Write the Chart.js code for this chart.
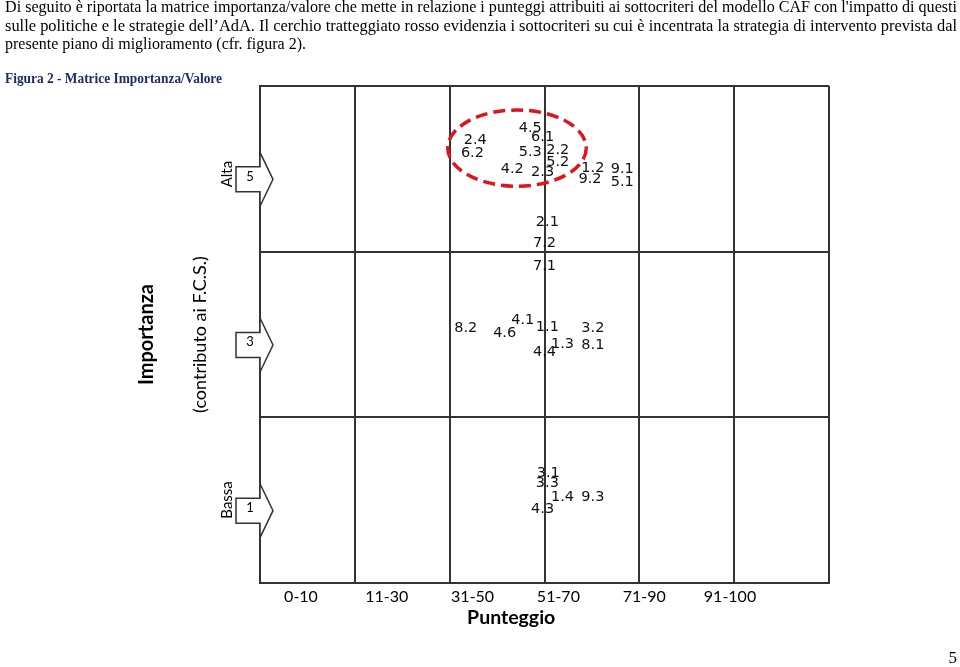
<!DOCTYPE html>
<html>
<head>
<meta charset="utf-8">
<script src="https://cdn.jsdelivr.net/npm/chart.js@4.4.0/dist/chart.umd.min.js"></script>
<style>
  body { margin: 0; background: #fff; }
  #pagina { position: relative; width: 960px; height: 667px; overflow: hidden; background: #fff; }
  #grafico { position: absolute; left: 0; top: 0; }
  .riga { position: absolute; left: 5px; white-space: nowrap; font-family: "Liberation Serif", "Times New Roman", serif;
          font-size: 16.5px; line-height: 16px; color: #000; transform-origin: 0 0; }
  #titoloFig { font-weight: bold; font-size: 14px; color: #1f2a6b; }
  #numPag { position: absolute; right: 3px; top: 648px; font-family: "Liberation Serif", serif; font-size: 17px; }
</style>
</head>
<body>
<div id="pagina">
  <canvas id="grafico" width="960" height="667"></canvas>
  <div class="riga" data-w="952" style="top:-1px">Di seguito è riportata la matrice importanza/valore che mette in relazione i punteggi attribuiti ai sottocriteri del modello CAF con l'impatto di questi</div>
  <div class="riga" data-w="952" style="top:17.5px">sulle politiche e le strategie dell’AdA. Il cerchio tratteggiato rosso evidenzia i sottocriteri su cui è incentrata la strategia di intervento prevista dal</div>
  <div class="riga" data-w="301" style="top:36px">presente piano di miglioramento (cfr. figura 2).</div>
  <div class="riga" id="titoloFig" data-w="217" style="top:71px">Figura 2 - Matrice Importanza/Valore</div>
  <div id="numPag">5</div>
</div>
<script>
// sottocriteri CAF: codice, posizione sul punteggio (colonne) e importanza
const codici = ["2.4", "6.2", "4.5", "6.1", "5.3", "2.2", "5.2", "4.2", "2.3", "1.2", "9.2", "9.1", "5.1",
                "2.1", "7.2", "7.1", "8.2", "4.6", "4.1", "1.1", "1.3", "4.4", "3.2", "8.1",
                "3.1", "3.3", "1.4", "9.3", "4.3"];
const punteggio = [2.27, 2.24, 2.85, 2.98, 2.85, 3.14, 3.14, 2.66, 2.98, 3.51, 3.48, 3.82, 3.82,
                   3.03, 3.00, 3.00, 2.17, 2.58, 2.77, 3.03, 3.19, 3.00, 3.51, 3.51,
                   3.04, 3.03, 3.19, 3.51, 2.98];
const importanza = [5.35, 5.19, 5.49, 5.38, 5.20, 5.23, 5.08, 4.99, 4.96, 5.01, 4.88, 5.00, 4.84,
                    4.36, 4.10, 3.82, 3.07, 3.02, 3.17, 3.09, 2.88, 2.78, 3.07, 2.87,
                    1.33, 1.20, 1.04, 1.03, 0.89];
const fasce = ["0-10", "11-30", "31-50", "51-70", "71-90", "91-100"];
const livelli = [5, 3, 1];
const livelliTesto = ["Alta", "", "Bassa"];
const cerchio = { x: 2.71, y: 5.25, rx: 0.73, ry: 0.46 };

// adatta le righe di testo alla larghezza della pagina
document.querySelectorAll(".riga").forEach(el => {
  const w = el.getBoundingClientRect().width;
  el.style.transform = "scaleX(" + (Number(el.dataset.w) / w) + ")";
});

const nero = "#333";

const disegni = {
  id: "disegni",
  afterDatasetsDraw(chart) {
    const ctx = chart.ctx;
    const sx = chart.scales.x, sy = chart.scales.y;
    // cerchio tratteggiato rosso
    ctx.save();
    ctx.beginPath();
    ctx.ellipse(sx.getPixelForValue(cerchio.x), sy.getPixelForValue(cerchio.y),
      sx.getPixelForValue(cerchio.rx) - sx.getPixelForValue(0),
      sy.getPixelForValue(0) - sy.getPixelForValue(cerchio.ry), 0, 0, Math.PI * 2);
    ctx.strokeStyle = "#e2141b";
    ctx.lineWidth = 3.5;
    ctx.setLineDash([12, 6]);
    ctx.stroke();
    ctx.restore();

    // etichette dei sottocriteri
    const meta = chart.getDatasetMeta(0);
    ctx.save();
    ctx.font = "14.5px 'DejaVu Sans'";
    ctx.fillStyle = "#111";
    ctx.textAlign = "center";
    ctx.textBaseline = "middle";
    meta.data.forEach((p, i) => ctx.fillText(codici[i], p.x, p.y));
    ctx.restore();
  },
  afterDraw(chart) {
    const ctx = chart.ctx;
    const sy = chart.scales.y, xt = chart.scales.xt;
    const left = chart.chartArea.left;
    ctx.save();
    livelli.forEach((v, i) => {
      const cy = sy.getPixelForValue(v) + 10.5;
      ctx.beginPath();
      ctx.moveTo(left - 24, cy - 12.5);
      ctx.lineTo(left, cy - 12.5);
      ctx.lineTo(left, cy - 27);
      ctx.lineTo(left + 13, cy);
      ctx.lineTo(left, cy + 27);
      ctx.lineTo(left, cy + 12.5);
      ctx.lineTo(left - 24, cy + 12.5);
      ctx.closePath();
      ctx.fillStyle = "#fff";
      ctx.fill();
      ctx.strokeStyle = nero;
      ctx.lineWidth = 1.5;
      ctx.stroke();
      ctx.fillStyle = "#000";
      ctx.font = "13px Lato";
      ctx.textAlign = "center";
      ctx.textBaseline = "middle";
      ctx.fillText(String(v), left - 10, cy - 3);
      if (livelliTesto[i]) {
        ctx.save();
        ctx.translate(227, cy + 8);
        ctx.rotate(-Math.PI / 2);
        ctx.font = "15px Lato";
        ctx.textAlign = "left";
        ctx.fillText(livelliTesto[i], 0, 0);
        ctx.restore();
      }
    });
    // titoli asse verticale
    const my = (chart.chartArea.top + chart.chartArea.bottom) / 2;
    ctx.fillStyle = "#000";
    ctx.textAlign = "center";
    ctx.textBaseline = "middle";
    ctx.save();
    ctx.translate(147, my);
    ctx.rotate(-Math.PI / 2);
    ctx.font = "bold 20px Lato";
    ctx.fillText("Importanza", 0, 0);
    ctx.restore();
    ctx.save();
    ctx.translate(200, my);
    ctx.rotate(-Math.PI / 2);
    ctx.font = "18px Lato";
    ctx.fillText("(contributo ai F.C.S.)", 0, 0);
    ctx.restore();
    // titolo asse orizzontale
    ctx.font = "bold 19.5px Lato";
    ctx.fillText("Punteggio", xt.getPixelForValue(2.95), 618);
    ctx.restore();
  }
};

new Chart(document.getElementById("grafico"), {
  type: "scatter",
  data: {
    datasets: [{
      data: codici.map((c, i) => ({ x: punteggio[i], y: importanza[i] })),
      pointRadius: 0
    }]
  },
  options: {
    responsive: false,
    animation: false,
    layout: { padding: { left: 0, top: 86, right: 131, bottom: 0 } },
    plugins: { legend: { display: false }, tooltip: { enabled: false } },
    scales: {
      x: {
        type: "linear", position: "bottom", min: 0, max: 6,
        ticks: { stepSize: 1, display: false },
        grid: { color: nero, lineWidth: 2, drawTicks: false },
        border: { color: nero, width: 2 },
        afterFit: s => { s.height = 0; }
      },
      xt: {
        type: "linear", position: "bottom", min: 0.022, max: 6.654,
        afterBuildTicks: s => { s.ticks = fasce.map((f, i) => ({ value: i + 0.5 })); },
        ticks: {
          callback: (v, i) => fasce[i],
          autoSkip: false, maxRotation: 0, padding: 4,
          color: "#000", font: { family: "Lato", size: 16 }
        },
        grid: { display: false, drawTicks: false },
        border: { display: false },
        afterFit: s => { s.height = 84; }
      },
      y: {
        type: "linear", min: 0, max: 6,
        ticks: { stepSize: 2, display: false },
        grid: { color: nero, lineWidth: 2, drawTicks: false },
        border: { color: nero, width: 2 },
        afterFit: s => { s.width = 260; }
      }
    }
  },
  plugins: [disegni]
});
</script>
</body>
</html>
